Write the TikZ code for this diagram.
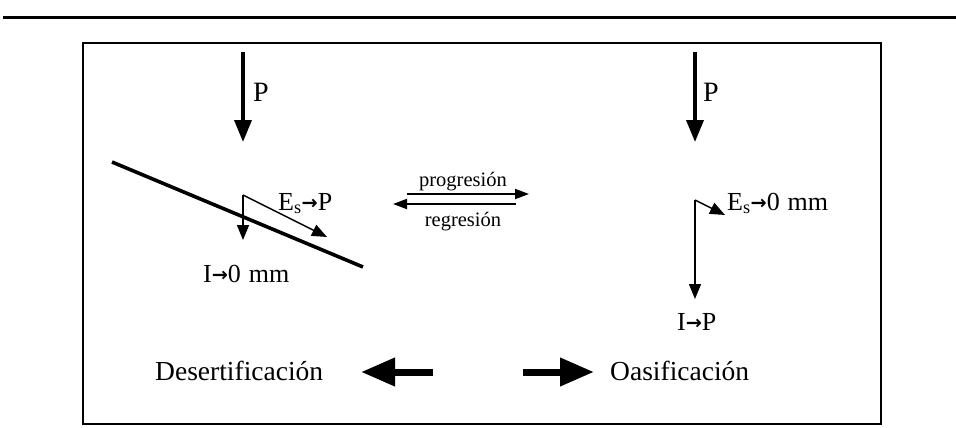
\documentclass[tikz,border=0pt]{standalone}
\usepackage{fontspec}
\setmainfont{Liberation Serif}
\newfontfamily\dvs{DejaVu Sans}
\usetikzlibrary{arrows.meta}
\newcommand{\tarr}{\raisebox{0.02em}{\resizebox{0.62em}{!}{\dvs\bfseries →}}}
\begin{document}
\begin{tikzpicture}[x=1pt,y=-1pt,
  heavyarrow/.style={line width=3.6pt,-{Triangle[length=22pt,width=17pt]}},
  thinarrow/.style={line width=1.5pt,-{Triangle[length=15pt,width=12pt]}},
  midarrow/.style={line width=2pt,-{Triangle[length=14pt,width=10pt]}},
  bigarrow/.style={line width=7pt,-{Triangle[length=34pt,width=27pt]}},
  lbl/.style={inner sep=0pt,anchor=base west},
  plbl/.style={lbl,font=\fontsize{28}{32}\selectfont},
  elbl/.style={lbl,font=\fontsize{26}{30}\selectfont},
  slbl/.style={inner sep=0pt,anchor=base,font=\fontsize{20.5}{24}\selectfont},
  wlbl/.style={lbl,font=\fontsize{27.5}{32}\selectfont}]
\useasboundingbox (0,0) rectangle (956,428);
% top rule and frame
\coordinate (r1) at (3,18); \coordinate (r2) at (956,18);
\draw[line width=3pt] (r1) -- (r2);
\coordinate (f1) at (83,43); \coordinate (f2) at (881,424);
\draw[line width=2pt] (f1) rectangle (f2);
% left: desertification
\coordinate (lp1) at (243,52); \coordinate (lp2) at (243,142);
\draw[heavyarrow] (lp1) -- (lp2);
\node[plbl] (lP) at (253,101) {P};
\coordinate (s1) at (112,162); \coordinate (s2) at (363,267);
\draw[line width=3.6pt] (s1) -- (s2);
\coordinate (lc) at (243,195); \coordinate (li) at (243,240); \coordinate (le) at (327,237);
\draw[thinarrow] (lc) -- (li);
\draw[thinarrow] (lc) -- (le);
\node[elbl] (lE) at (278,210) {E\textsubscript{s}\tarr P};
\node[elbl] (lI) at (203,282) {I\tarr 0\hspace{0.05em} mm};
% middle
\coordinate (m1) at (407,194); \coordinate (m2) at (529,194);
\coordinate (m3) at (516,204); \coordinate (m4) at (393,204);
\draw[midarrow] (m1) -- (m2);
\draw[midarrow] (m3) -- (m4);
\node[slbl] (prog) at (463,186) {progresión};
\node[slbl] (reg) at (463,226) {regresión};
% right: oasification
\coordinate (rp1) at (695,52); \coordinate (rp2) at (695,142);
\draw[heavyarrow] (rp1) -- (rp2);
\node[plbl] (rP) at (703,101) {P};
\coordinate (rc) at (695,200); \coordinate (ri) at (695,299); \coordinate (re) at (725,215);
\draw[thinarrow] (rc) -- (ri);
\draw[thinarrow] (rc) -- (re);
\node[elbl] (rE) at (727,210) {E\textsubscript{s}\tarr 0\hspace{0.05em} mm};
\node[elbl] (rI) at (677,330) {I\tarr P};
% bottom
\node[wlbl] (des) at (155,380) {Desertificación};
\node[wlbl] (oas) at (610,380) {Oasificación};
\coordinate (b1) at (433,372); \coordinate (b2) at (361,372);
\coordinate (b3) at (523,372); \coordinate (b4) at (594,372);
\draw[bigarrow] (b1) -- (b2);
\draw[bigarrow] (b3) -- (b4);
\end{tikzpicture}
\end{document}
